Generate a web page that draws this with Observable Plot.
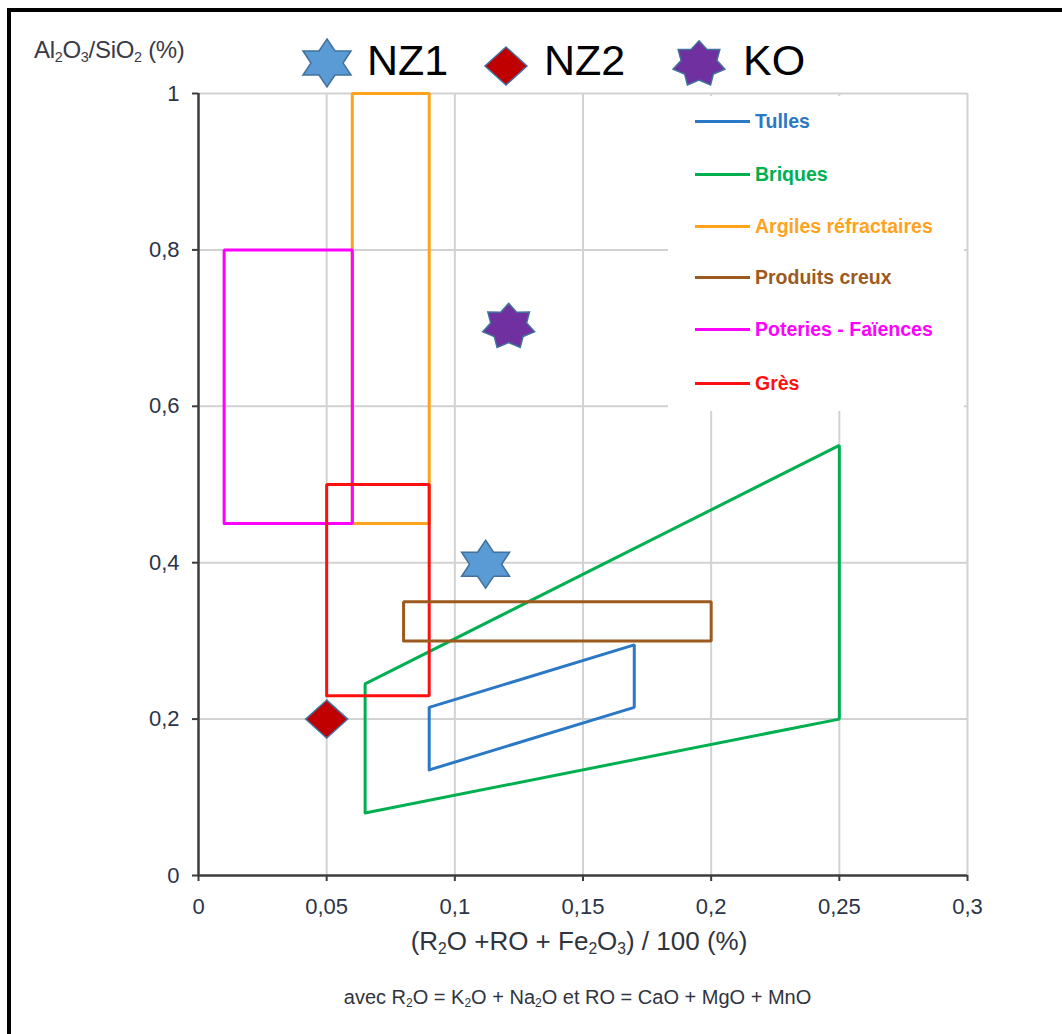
<!DOCTYPE html>
<html>
<head>
<meta charset="utf-8">
<script src="https://cdn.jsdelivr.net/npm/d3@7"></script>
<script src="https://cdn.jsdelivr.net/npm/@observablehq/plot@0.6"></script>
<style>
  html, body { margin: 0; padding: 0; background: #fff; overflow: hidden; }
  #wrap { position: relative; width: 1062px; height: 1034px; overflow: hidden; font-family: "Liberation Sans", Arial, sans-serif; }
  #wrap svg.plot { position: absolute; left: 0; top: 0; }
  .abs { position: absolute; white-space: nowrap; }
  .frame { position: absolute; left: 7px; top: 8px; width: 1100px; height: 1100px; border-top: 4px solid #000; border-left: 4px solid #000; pointer-events: none; }
  .ytitle { left: 34px; top: 36px; font-size: 24px; letter-spacing: -0.3px; color: #3a3a48; }
  .xtitle { left: 0; width: 1158px; text-align: center; top: 926px; font-size: 26px; color: #2f3440; }
  .caption { left: 0; width: 1155px; text-align: center; top: 986px; font-size: 20px; color: #2f3440; }
  sub { font-size: 60%; vertical-align: -0.25em; line-height: 0; }
  .toplab { font-size: 43px; color: #000; top: 35px; line-height: 50px; }
  .legbox { left: 668px; top: 96px; width: 296px; height: 315px; background: #fff; }
  .legrow { position: absolute; left: 27px; height: 24px; display: flex; align-items: center; }
  .legrow .ln { width: 55px; height: 3px; margin-right: 5px; }
  .legrow .tx { font-size: 19.5px; font-weight: bold; }
</style>
</head>
<body>
<div id="wrap"></div>
<script>
// ---------- data ----------
const xTicks = [0, 0.05, 0.1, 0.15, 0.2, 0.25, 0.3];
const yTicks = [0, 0.2, 0.4, 0.6, 0.8, 1];

const zoneNames  = ["Tulles", "Briques", "Argiles réfractaires", "Produits creux", "Poteries - Faïences", "Grès"];
const zoneColors = ["#2A78C6", "#00B050", "#FFA21C", "#9C5A1E", "#FF00FF", "#FF1010"];

const tullesX   = [0.09, 0.09, 0.17, 0.17];
const tullesY   = [0.135, 0.215, 0.295, 0.215];
const briquesX  = [0.065, 0.065, 0.25, 0.25];
const briquesY  = [0.08, 0.245, 0.55, 0.20];
const argilesX  = [0.06, 0.06, 0.09, 0.09];
const argilesY  = [0.45, 1.0, 1.0, 0.45];
const creuxX    = [0.08, 0.08, 0.20, 0.20];
const creuxY    = [0.30, 0.35, 0.35, 0.30];
const poteriesX = [0.01, 0.01, 0.06, 0.06];
const poteriesY = [0.45, 0.80, 0.80, 0.45];
const gresX     = [0.05, 0.05, 0.09, 0.09];
const gresY     = [0.23, 0.50, 0.50, 0.23];

const sampleNames = ["NZ1", "NZ2", "KO"];
const sampleX     = [0.112, 0.050, 0.121];
const sampleY     = [0.398, 0.200, 0.702];
const sampleFill  = ["#5B9BD5", "#C00000", "#7030A0"];

// ---------- helpers ----------
const zoneXs = [tullesX, briquesX, argilesX, creuxX, poteriesX, gresX];
const zoneYs = [tullesY, briquesY, argilesY, creuxY, poteriesY, gresY];
const fmt = d => String(d).replace(".", ",");

function starPts(n, inner, sx, sy) {
  const p = [];
  for (let k = 0; k < 2 * n; k++) {
    const a = -Math.PI / 2 + k * Math.PI / n;
    const r = k % 2 ? inner : 1;
    p.push([Math.cos(a) * r * sx, Math.sin(a) * r * sy]);
  }
  return p;
}
const shapeUnits = [
  starPts(6, 0.577, 1.1547, 1.0),
  [[0, -0.79], [0.875, 0], [0, 0.79], [-0.875, 0]],
  starPts(7, 0.69, 1.11, 0.965)
];
const symbols = shapeUnits.map(pts => ({
  draw(ctx, size) {
    const R = Math.sqrt(size / Math.PI);
    pts.forEach(([x, y], i) => i ? ctx.lineTo(x * R, y * R) : ctx.moveTo(x * R, y * R));
    ctx.closePath();
  }
}));

// ---------- plot ----------
const zoneMarks = zoneNames.map((name, i) => {
  const rows = zoneXs[i].map((x, j) => ({x, y: zoneYs[i][j]}));
  rows.push(rows[0]);
  return Plot.line(rows, {x: "x", y: "y", stroke: zoneColors[i], strokeWidth: 3, strokeLinejoin: "miter"});
});
const order = [1, 2, 4, 5, 3, 0];

const chart = Plot.plot({
  width: 1062, height: 1034,
  marginLeft: 198, marginRight: 95, marginTop: 93, marginBottom: 159,
  x: {domain: [0, 0.3]},
  y: {domain: [0, 1]},
  style: {fontFamily: "'Liberation Sans', Arial, sans-serif", fontSize: "22px", color: "#2b3448", background: "transparent"},
  marks: [
    Plot.gridX(xTicks.filter(d => d > 0), {stroke: "#d2d2d2", strokeOpacity: 1, strokeWidth: 2}),
    Plot.gridY(yTicks.filter(d => d > 0), {stroke: "#d2d2d2", strokeOpacity: 1, strokeWidth: 2}),
    ...order.map(i => zoneMarks[i]),
    Plot.ruleX([0], {stroke: "#3c3c3c", strokeWidth: 2.5}),
    Plot.ruleY([0], {stroke: "#3c3c3c", strokeWidth: 2.5}),
    Plot.axisX({ticks: xTicks, tickFormat: fmt, label: null, tickSize: 6, tickPadding: 17, stroke: "#3c3c3c", strokeWidth: 2}),
    Plot.axisY({ticks: yTicks, tickFormat: fmt, label: null, tickSize: 6, tickPadding: 13, stroke: "#3c3c3c", strokeWidth: 2}),
    ...sampleNames.map((n, i) => Plot.dot([i], {
      x: j => sampleX[j], y: j => sampleY[j], r: 24,
      symbol: symbols[i], fill: sampleFill[i], stroke: "#41719C", strokeWidth: 1.5
    }))
  ]
});

const wrap = document.getElementById("wrap");
chart.classList.add("plot");
wrap.appendChild(chart);

function addDiv(cls, html, style) {
  const d = document.createElement("div");
  d.className = "abs " + cls;
  d.innerHTML = html;
  if (style) Object.assign(d.style, style);
  wrap.appendChild(d);
  return d;
}

// axis titles & caption
addDiv("ytitle", "Al<sub>2</sub>O<sub>3</sub>/SiO<sub>2</sub> (%)");
addDiv("xtitle", "(R<sub>2</sub>O +RO + Fe<sub>2</sub>O<sub>3</sub>) / 100 (%)");
addDiv("caption", "avec R<sub>2</sub>O = K<sub>2</sub>O + Na<sub>2</sub>O et RO = CaO + MgO + MnO");

// in-plot legend
const box = addDiv("legbox", "");
const rowTops = [13, 66, 118, 169, 221, 275];
zoneNames.forEach((n, i) => {
  const r = document.createElement("div");
  r.className = "legrow";
  r.style.top = rowTops[i] + "px";
  r.innerHTML = `<div class="ln" style="background:${zoneColors[i]}"></div><div class="tx" style="color:${zoneColors[i]}">${n}</div>`;
  box.appendChild(r);
});

// top legend
const topSym = [[327, 63], [506, 66], [699, 64]];
const topText = [367, 544, 743];
sampleNames.forEach((n, i) => {
  const R = 24;
  const pts = shapeUnits[i].map(([x, y]) => `${(x * R + 30).toFixed(2)},${(y * R + 30).toFixed(2)}`).join(" ");
  addDiv("", `<svg width="60" height="60"><polygon points="${pts}" fill="${sampleFill[i]}" stroke="#41719C" stroke-width="1.5"/></svg>`,
    {left: (topSym[i][0] - 30) + "px", top: (topSym[i][1] - 30) + "px"});
  addDiv("toplab", n, {left: topText[i] + "px"});
});

// outer frame
const f = document.createElement("div");
f.className = "frame";
wrap.appendChild(f);
</script>
</body>
</html>
